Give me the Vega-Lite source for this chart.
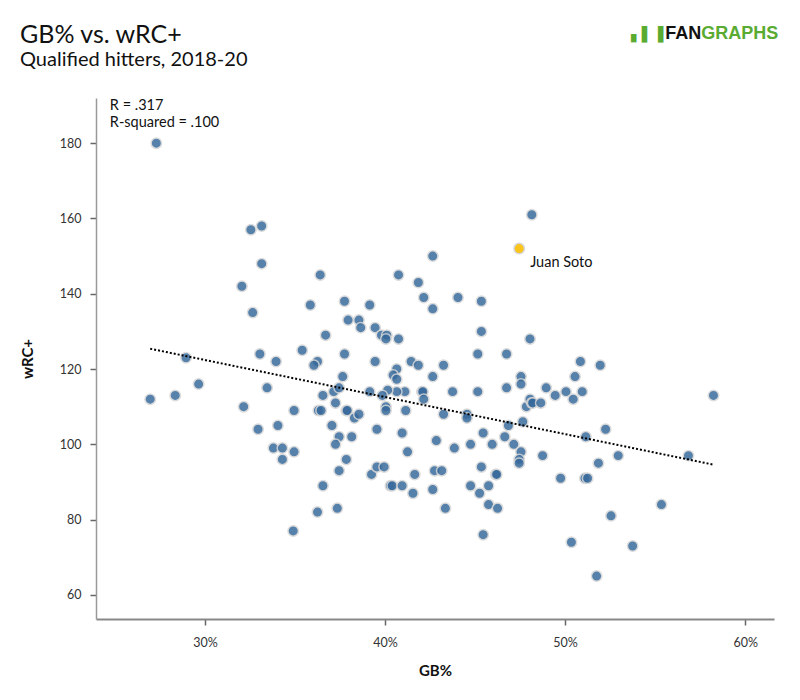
{
  "$schema": "https://vega.github.io/schema/vega-lite/v6.json",
  "width": 678,
  "height": 521,
  "autosize": {"type": "none"},
  "padding": {"left": 96, "top": 98, "right": 26, "bottom": 81},
  "background": "white",
  "config": {
    "view": {"stroke": null},
    "font": "Lato",
    "axis": {"labelFont": "Lato", "titleFont": "Lato", "grid": false}
  },
  "title": {
    "text": "GB% vs. wRC+",
    "subtitle": "Qualified hitters, 2018-20",
    "anchor": "start",
    "frame": "group",
    "font": "Lato",
    "fontSize": 25,
    "fontWeight": "normal",
    "color": "#111111",
    "subtitleFont": "Lato",
    "subtitleFontSize": 20,
    "subtitleColor": "#111111",
    "subtitlePadding": 2,
    "offset": 0,
    "dx": -76,
    "dy": 45
  },
  "datasets": {
    "hitters": [
      {"gb": 27.3, "wrc": 180}, {"gb": 32.55, "wrc": 157}, {"gb": 33.15, "wrc": 158}, {"gb": 33.15, "wrc": 148},
      {"gb": 32.05, "wrc": 142}, {"gb": 36.4, "wrc": 145}, {"gb": 32.65, "wrc": 135}, {"gb": 35.85, "wrc": 137},
      {"gb": 36.7, "wrc": 129}, {"gb": 28.95, "wrc": 123}, {"gb": 33.05, "wrc": 124}, {"gb": 33.95, "wrc": 122},
      {"gb": 35.4, "wrc": 125}, {"gb": 36.25, "wrc": 122}, {"gb": 36.05, "wrc": 121}, {"gb": 29.65, "wrc": 116},
      {"gb": 26.96, "wrc": 112}, {"gb": 28.35, "wrc": 113}, {"gb": 33.45, "wrc": 115}, {"gb": 32.15, "wrc": 110},
      {"gb": 34.95, "wrc": 109}, {"gb": 36.3, "wrc": 109}, {"gb": 36.45, "wrc": 109}, {"gb": 36.55, "wrc": 113},
      {"gb": 34.05, "wrc": 105}, {"gb": 32.95, "wrc": 104}, {"gb": 33.8, "wrc": 99}, {"gb": 34.3, "wrc": 99},
      {"gb": 34.95, "wrc": 98}, {"gb": 34.3, "wrc": 96}, {"gb": 36.55, "wrc": 89}, {"gb": 36.25, "wrc": 82},
      {"gb": 34.9, "wrc": 77},
      {"gb": 42.65, "wrc": 150}, {"gb": 47.45, "wrc": 152, "player": "Juan Soto"}, {"gb": 48.15, "wrc": 161},
      {"gb": 40.75, "wrc": 145}, {"gb": 41.85, "wrc": 143}, {"gb": 42.15, "wrc": 139}, {"gb": 42.65, "wrc": 136},
      {"gb": 44.05, "wrc": 139}, {"gb": 45.35, "wrc": 138}, {"gb": 37.75, "wrc": 138}, {"gb": 39.15, "wrc": 137},
      {"gb": 37.95, "wrc": 133}, {"gb": 38.55, "wrc": 133}, {"gb": 38.65, "wrc": 131}, {"gb": 39.45, "wrc": 131},
      {"gb": 39.8, "wrc": 129}, {"gb": 40.1, "wrc": 129}, {"gb": 40.05, "wrc": 128}, {"gb": 40.75, "wrc": 128},
      {"gb": 45.35, "wrc": 130}, {"gb": 48.05, "wrc": 128}, {"gb": 46.75, "wrc": 124}, {"gb": 45.15, "wrc": 124},
      {"gb": 37.75, "wrc": 124}, {"gb": 39.45, "wrc": 122}, {"gb": 40.65, "wrc": 120}, {"gb": 41.45, "wrc": 122},
      {"gb": 41.85, "wrc": 121}, {"gb": 43.25, "wrc": 121}, {"gb": 37.65, "wrc": 118}, {"gb": 40.45, "wrc": 118.4},
      {"gb": 40.65, "wrc": 117.3}, {"gb": 42.65, "wrc": 118}, {"gb": 47.55, "wrc": 118}, {"gb": 50.85, "wrc": 122},
      {"gb": 51.95, "wrc": 121}, {"gb": 50.55, "wrc": 118}, {"gb": 47.55, "wrc": 116}, {"gb": 48.95, "wrc": 115},
      {"gb": 49.45, "wrc": 113}, {"gb": 46.75, "wrc": 115}, {"gb": 45.15, "wrc": 114}, {"gb": 43.75, "wrc": 114},
      {"gb": 42.05, "wrc": 114}, {"gb": 42.1, "wrc": 114}, {"gb": 42.15, "wrc": 112}, {"gb": 41.1, "wrc": 114},
      {"gb": 40.65, "wrc": 114}, {"gb": 40.15, "wrc": 114.4}, {"gb": 39.85, "wrc": 113}, {"gb": 39.15, "wrc": 114},
      {"gb": 37.15, "wrc": 114}, {"gb": 37.45, "wrc": 115}, {"gb": 37.25, "wrc": 111}, {"gb": 37.85, "wrc": 109},
      {"gb": 37.9, "wrc": 109}, {"gb": 38.3, "wrc": 107}, {"gb": 38.55, "wrc": 108}, {"gb": 37.05, "wrc": 105},
      {"gb": 37.45, "wrc": 102}, {"gb": 37.25, "wrc": 100}, {"gb": 38.15, "wrc": 102}, {"gb": 37.85, "wrc": 96},
      {"gb": 37.45, "wrc": 93}, {"gb": 37.35, "wrc": 83}, {"gb": 39.55, "wrc": 104}, {"gb": 39.25, "wrc": 92},
      {"gb": 39.55, "wrc": 94}, {"gb": 39.95, "wrc": 94}, {"gb": 40.3, "wrc": 89}, {"gb": 40.4, "wrc": 89},
      {"gb": 40.95, "wrc": 89}, {"gb": 41.55, "wrc": 87}, {"gb": 41.65, "wrc": 92}, {"gb": 41.25, "wrc": 98},
      {"gb": 40.95, "wrc": 103}, {"gb": 40.05, "wrc": 110}, {"gb": 40.05, "wrc": 109}, {"gb": 41.15, "wrc": 109},
      {"gb": 43.25, "wrc": 108}, {"gb": 42.85, "wrc": 101}, {"gb": 43.85, "wrc": 99}, {"gb": 42.75, "wrc": 93},
      {"gb": 43.15, "wrc": 93}, {"gb": 42.65, "wrc": 88}, {"gb": 43.35, "wrc": 83}, {"gb": 44.55, "wrc": 108},
      {"gb": 44.55, "wrc": 107}, {"gb": 45.45, "wrc": 103}, {"gb": 44.75, "wrc": 100}, {"gb": 45.95, "wrc": 100},
      {"gb": 45.35, "wrc": 94}, {"gb": 46.15, "wrc": 92}, {"gb": 46.2, "wrc": 92}, {"gb": 44.75, "wrc": 89},
      {"gb": 45.75, "wrc": 89}, {"gb": 45.25, "wrc": 87}, {"gb": 45.75, "wrc": 84}, {"gb": 46.25, "wrc": 83},
      {"gb": 45.45, "wrc": 76}, {"gb": 46.65, "wrc": 102}, {"gb": 47.15, "wrc": 100}, {"gb": 46.85, "wrc": 105},
      {"gb": 47.55, "wrc": 98}, {"gb": 47.45, "wrc": 96}, {"gb": 47.45, "wrc": 95}, {"gb": 47.65, "wrc": 106},
      {"gb": 47.85, "wrc": 110}, {"gb": 48.05, "wrc": 112}, {"gb": 48.15, "wrc": 111}, {"gb": 48.2, "wrc": 111},
      {"gb": 48.65, "wrc": 111}, {"gb": 50.05, "wrc": 114}, {"gb": 50.95, "wrc": 114}, {"gb": 50.45, "wrc": 112},
      {"gb": 48.75, "wrc": 97}, {"gb": 51.15, "wrc": 102}, {"gb": 52.25, "wrc": 104}, {"gb": 52.95, "wrc": 97},
      {"gb": 51.85, "wrc": 95}, {"gb": 56.85, "wrc": 97}, {"gb": 58.24, "wrc": 113}, {"gb": 49.75, "wrc": 91},
      {"gb": 51.1, "wrc": 91}, {"gb": 51.25, "wrc": 91}, {"gb": 55.35, "wrc": 84}, {"gb": 52.55, "wrc": 81},
      {"gb": 50.35, "wrc": 74}, {"gb": 53.75, "wrc": 73}, {"gb": 51.75, "wrc": 65}
    ],
    "trend": [
      {"gb": 26.96, "wrc": 125.4},
      {"gb": 58.24, "wrc": 94.6}
    ],
    "notes": [
      {"note": "R = .317", "kind": "stat1"},
      {"note": "R-squared = .100", "kind": "stat2"},
      {"note": "FAN", "kind": "fan"},
      {"note": "GRAPHS", "kind": "graphs"},
      {"note": "▖▌▐", "kind": "icon"}
    ]
  },
  "layer": [
    {
      "data": {"name": "hitters"},
      "transform": [{"filter": "datum.player != 'Juan Soto'"}],
      "mark": {"type": "circle", "size": 110, "color": "#36699b", "opacity": 0.84, "stroke": "#d6d6d6", "strokeWidth": 1.5},
      "encoding": {
        "x": {
          "field": "gb",
          "type": "quantitative",
          "scale": {"domain": [23.95, 61.6], "nice": false, "zero": false},
          "axis": {
            "title": "GB%",
            "values": [30, 40, 50, 60],
            "labelExpr": "datum.value + '%'",
            "domainColor": "#888888",
            "domainWidth": 2,
            "tickColor": "#666666",
            "tickSize": 6,
            "tickWidth": 1.5,
            "labelFontSize": 12.5,
            "labelColor": "#333333",
            "labelPadding": 11,
            "titleFontSize": 15,
            "titleFontWeight": "bold",
            "titleColor": "#111111",
            "titlePadding": 15
          }
        },
        "y": {
          "field": "wrc",
          "type": "quantitative",
          "scale": {"domain": [53.6, 192], "nice": false, "zero": false},
          "axis": {
            "title": "wRC+",
            "values": [60, 80, 100, 120, 140, 160, 180],
            "domainColor": "#999999",
            "domainWidth": 1.5,
            "tickColor": "#666666",
            "tickSize": 6,
            "tickWidth": 1.5,
            "labelFontSize": 12.5,
            "labelColor": "#333333",
            "labelPadding": 9,
            "titleFontSize": 15,
            "titleFontWeight": "bold",
            "titleColor": "#111111",
            "titlePadding": 24
          }
        }
      }
    },
    {
      "data": {"name": "trend"},
      "mark": {"type": "line", "color": "#000000", "strokeWidth": 2, "strokeDash": [2, 2]},
      "encoding": {
        "x": {"field": "gb", "type": "quantitative"},
        "y": {"field": "wrc", "type": "quantitative"}
      }
    },
    {
      "data": {"name": "hitters"},
      "transform": [{"filter": "datum.player == 'Juan Soto'"}],
      "mark": {"type": "circle", "size": 110, "color": "#fbc41a", "opacity": 1, "stroke": "#d6d6d6", "strokeWidth": 1.5},
      "encoding": {
        "x": {"field": "gb", "type": "quantitative"},
        "y": {"field": "wrc", "type": "quantitative"}
      }
    },
    {
      "data": {"name": "hitters"},
      "transform": [{"filter": "datum.player == 'Juan Soto'"}],
      "mark": {"type": "text", "align": "left", "baseline": "alphabetic", "dx": 11, "dy": 18.5, "fontSize": 14.5, "font": "Lato", "color": "#111111"},
      "encoding": {
        "x": {"field": "gb", "type": "quantitative"},
        "y": {"field": "wrc", "type": "quantitative"},
        "text": {"field": "player"}
      }
    },
    {
      "data": {"name": "notes"},
      "transform": [{"filter": "datum.kind == 'stat1'"}],
      "mark": {"type": "text", "align": "left", "baseline": "alphabetic", "fontSize": 14.5, "font": "Lato", "color": "#111111"},
      "encoding": {
        "x": {"datum": 24.72},
        "y": {"datum": 188.7},
        "text": {"field": "note"}
      }
    },
    {
      "data": {"name": "notes"},
      "transform": [{"filter": "datum.kind == 'stat2'"}],
      "mark": {"type": "text", "align": "left", "baseline": "alphabetic", "fontSize": 14.5, "font": "Lato", "color": "#111111"},
      "encoding": {
        "x": {"datum": 24.72},
        "y": {"datum": 184.35},
        "text": {"field": "note"}
      }
    },
    {
      "data": {"name": "notes"},
      "transform": [{"filter": "datum.kind == 'fan'"}],
      "mark": {"type": "text", "align": "left", "baseline": "alphabetic", "fontSize": 18, "font": "Liberation Sans", "fontWeight": "bold", "color": "#111111"},
      "encoding": {
        "x": {"datum": 55.56},
        "y": {"datum": 207.6},
        "text": {"field": "note"}
      }
    },
    {
      "data": {"name": "notes"},
      "transform": [{"filter": "datum.kind == 'graphs'"}],
      "mark": {"type": "text", "align": "right", "baseline": "alphabetic", "fontSize": 18, "font": "Liberation Sans", "fontWeight": "bold", "color": "#5aab32"},
      "encoding": {
        "x": {"datum": 61.83},
        "y": {"datum": 207.6},
        "text": {"field": "note"}
      }
    },
    {
      "data": {"name": "notes"},
      "transform": [{"filter": "datum.kind == 'icon'"}],
      "mark": {"type": "text", "align": "right", "baseline": "alphabetic", "fontSize": 14, "font": "DejaVu Sans", "color": "#5aab32"},
      "encoding": {
        "x": {"datum": 55.45},
        "y": {"datum": 207.6},
        "text": {"field": "note"}
      }
    }
  ]
}
